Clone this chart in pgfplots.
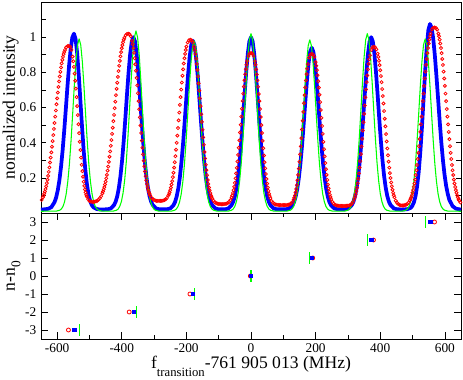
\documentclass[border=0pt]{standalone}
\usepackage{fontspec}
\setmainfont{Liberation Serif}
\usepackage{pgfplots}
\pgfplotsset{compat=1.18}
\definecolor{xgreen}{rgb}{0,1,0}
\pgfplotsset{
  mystyle/.style={
    scale only axis, width=315pt, xmin=-650, xmax=650,
    tick align=inside,
    axis line style={line width=0.6pt},
    every tick/.style={black, line width=0.5pt},
    /pgf/number format/assume math mode=true,
    tick label style={font=\fontsize{10}{12}\selectfont},
    every axis y label/.style={at={(axis description cs:-0.062,0.5)}, rotate=90, anchor=base, font=\fontsize{13.2}{15}\selectfont},
    every axis x label/.style={at={(axis description cs:0.5,-0.238)}, anchor=base, font=\fontsize{13.2}{15}\selectfont},
  },
  redmk/.style={only marks, mark=o, mark size=1.15pt, color=red, mark options={line width=0.6pt}}
}
\begin{document}
\begin{tikzpicture}
\begin{axis}[mystyle, at={(0,0)}, anchor=south west, height=158.25pt,
  ymin=0, ymax=1.2, ytick={0.2,0.4,0.6,0.8,1}, minor ytick={0.1,0.3,0.5,0.7,0.9,1.1},
  ytick pos=both, xtick=\empty,
  major tick length=3.5pt, minor tick length=3.5pt,
  ylabel={normalized intensity}]
\addplot[redmk] coordinates {
(-648,0.074) (-644,0.089) (-640,0.110) (-636,0.136) (-632,0.170) (-628,0.211) (-624,0.259) (-620,0.315)
(-616,0.377) (-612,0.443) (-608,0.512) (-604,0.583) (-600,0.652) (-596,0.717) (-592,0.776) (-588,0.828)
(-584,0.871) (-580,0.904) (-576,0.927) (-572,0.942) (-568,0.949) (-564,0.950) (-560,0.946) (-556,0.928)
(-552,0.889) (-548,0.831) (-544,0.752) (-540,0.659) (-536,0.557) (-532,0.454) (-528,0.358) (-524,0.274)
(-520,0.206) (-516,0.154) (-512,0.117) (-508,0.093) (-504,0.078) (-500,0.069) (-496,0.065) (-492,0.063)
(-488,0.063) (-484,0.064) (-480,0.066) (-476,0.070) (-472,0.075) (-468,0.084) (-464,0.095) (-460,0.112)
(-456,0.134) (-452,0.162) (-448,0.197) (-444,0.241) (-440,0.291) (-436,0.350) (-432,0.415) (-428,0.485)
(-424,0.558) (-420,0.633) (-416,0.706) (-412,0.774) (-408,0.837) (-404,0.891) (-400,0.937) (-396,0.971)
(-392,0.996) (-388,1.011) (-384,1.018) (-380,1.020) (-376,1.017) (-372,1.005) (-368,0.979) (-364,0.937)
(-360,0.880) (-356,0.809) (-352,0.726) (-348,0.636) (-344,0.544) (-340,0.455) (-336,0.371) (-332,0.297)
(-328,0.236) (-324,0.185) (-320,0.147) (-316,0.119) (-312,0.100) (-308,0.087) (-304,0.079) (-300,0.074)
(-296,0.071) (-292,0.069) (-288,0.069) (-284,0.069) (-280,0.069) (-276,0.069) (-272,0.071) (-268,0.074)
(-264,0.078) (-260,0.086) (-256,0.099) (-252,0.117) (-248,0.144) (-244,0.181) (-240,0.229) (-236,0.289)
(-232,0.360) (-228,0.440) (-224,0.527) (-220,0.615) (-216,0.702) (-212,0.781) (-208,0.850) (-204,0.905)
(-200,0.946) (-196,0.970) (-192,0.982) (-188,0.985) (-184,0.982) (-180,0.970) (-176,0.945) (-172,0.904)
(-168,0.848) (-164,0.777) (-160,0.696) (-156,0.608) (-152,0.518) (-148,0.430) (-144,0.347) (-140,0.275)
(-136,0.215) (-132,0.165) (-128,0.128) (-124,0.100) (-120,0.081) (-116,0.069) (-112,0.061) (-108,0.056)
(-104,0.053) (-100,0.051) (-96,0.051) (-92,0.050) (-88,0.050) (-84,0.051) (-80,0.052) (-76,0.053)
(-72,0.057) (-68,0.063) (-64,0.073) (-60,0.089) (-56,0.114) (-52,0.149) (-48,0.197) (-44,0.257)
(-40,0.330) (-36,0.413) (-32,0.502) (-28,0.593) (-24,0.679) (-20,0.755) (-16,0.818) (-12,0.864)
(-8,0.893) (-4,0.907) (0,0.910) (4,0.907) (8,0.893) (12,0.863) (16,0.817) (20,0.754)
(24,0.677) (28,0.591) (32,0.500) (36,0.410) (40,0.327) (44,0.254) (48,0.193) (52,0.145)
(56,0.109) (60,0.084) (64,0.068) (68,0.058) (72,0.052) (76,0.048) (80,0.047) (84,0.046)
(88,0.045) (92,0.045) (96,0.045) (100,0.045) (104,0.045) (108,0.045) (112,0.046) (116,0.047)
(120,0.049) (124,0.054) (128,0.062) (132,0.077) (136,0.100) (140,0.136) (144,0.186) (148,0.252)
(152,0.333) (156,0.426) (160,0.525) (164,0.624) (168,0.714) (172,0.790) (176,0.847) (180,0.884)
(184,0.901) (188,0.905) (192,0.902) (196,0.888) (200,0.858) (204,0.812) (208,0.749) (212,0.672)
(216,0.586) (220,0.495) (224,0.405) (228,0.322) (232,0.249) (236,0.188) (240,0.140) (244,0.104)
(248,0.079) (252,0.063) (256,0.053) (260,0.047) (264,0.043) (268,0.042) (272,0.041) (276,0.040)
(280,0.040) (284,0.040) (288,0.040) (292,0.040) (296,0.041) (300,0.042) (304,0.043) (308,0.047)
(312,0.053) (316,0.064) (320,0.081) (324,0.107) (328,0.144) (332,0.195) (336,0.258) (340,0.335)
(344,0.422) (348,0.516) (352,0.611) (356,0.702) (360,0.782) (364,0.848) (368,0.896) (372,0.927)
(376,0.942) (380,0.945) (384,0.942) (388,0.931) (392,0.906) (396,0.866) (400,0.812) (404,0.744)
(408,0.665) (412,0.580) (416,0.493) (420,0.407) (424,0.328) (428,0.258) (432,0.199) (436,0.152)
(440,0.115) (444,0.089) (448,0.070) (452,0.058) (456,0.050) (460,0.046) (464,0.043) (468,0.043)
(472,0.043) (476,0.044) (480,0.047) (484,0.052) (488,0.060) (492,0.072) (496,0.090) (500,0.115)
(504,0.148) (508,0.190) (512,0.243) (516,0.307) (520,0.380) (524,0.461) (528,0.548) (532,0.636)
(536,0.723) (540,0.804) (544,0.876) (548,0.938) (552,0.986) (556,1.020) (560,1.043) (564,1.053)
(568,1.055) (572,1.053) (576,1.043) (580,1.020) (584,0.986) (588,0.938) (592,0.876) (596,0.804)
(600,0.723) (604,0.636) (608,0.548) (612,0.461) (616,0.380) (620,0.307) (624,0.243) (628,0.190)
(632,0.148) (636,0.115) (640,0.090) (644,0.072) (648,0.060)
};
\addplot[redmk] coordinates {
(-642,0.099) (-638,0.122) (-634,0.152) (-630,0.189) (-626,0.234) (-622,0.287) (-618,0.345) (-614,0.409)
(-610,0.478) (-606,0.548) (-602,0.618) (-598,0.685) (-594,0.748) (-590,0.803) (-586,0.851) (-582,0.888)
(-578,0.916)
(-550,0.863) (-546,0.793) (-542,0.707) (-538,0.608) (-534,0.505) (-530,0.405) (-526,0.315) (-522,0.238)
(-518,0.178) (-514,0.134) (-510,0.104)
(-458,0.122) (-454,0.147) (-450,0.178) (-446,0.217) (-442,0.264) (-438,0.320) (-434,0.382) (-430,0.450)
(-426,0.522) (-422,0.596) (-418,0.670) (-414,0.741) (-410,0.807) (-406,0.865) (-402,0.915) (-398,0.955)
(-394,0.985)
(-366,0.960) (-362,0.911) (-358,0.846) (-354,0.768) (-350,0.681) (-346,0.590) (-342,0.498) (-338,0.412)
(-334,0.333) (-330,0.265) (-326,0.209) (-322,0.165) (-318,0.132) (-314,0.109)
(-254,0.107) (-250,0.130) (-246,0.162) (-242,0.204) (-238,0.258) (-234,0.323) (-230,0.399) (-226,0.483)
(-222,0.571) (-218,0.659) (-214,0.742) (-210,0.817) (-206,0.880) (-202,0.927)
(-174,0.926) (-170,0.878) (-166,0.814) (-162,0.737) (-158,0.652) (-154,0.562) (-150,0.473) (-146,0.388)
(-142,0.310) (-138,0.244) (-134,0.188) (-130,0.145) (-126,0.113) (-122,0.090)
(-58,0.100) (-54,0.130) (-50,0.171) (-46,0.225) (-42,0.293) (-38,0.371) (-34,0.458) (-30,0.548)
(-26,0.637) (-22,0.719) (-18,0.789) (-14,0.843)
(14,0.843) (18,0.788) (22,0.718) (26,0.636) (30,0.546) (34,0.455) (38,0.368) (42,0.289)
(46,0.222) (50,0.167) (54,0.126) (58,0.096)
(134,0.087) (138,0.117) (142,0.159) (146,0.217) (150,0.291) (154,0.379) (158,0.475) (162,0.575)
(166,0.670) (170,0.754) (174,0.821)
(202,0.838) (206,0.783) (210,0.713) (214,0.631) (218,0.541) (222,0.450) (226,0.363) (230,0.284)
(234,0.217) (238,0.162) (242,0.121) (246,0.091)
(322,0.093) (326,0.124) (330,0.168) (334,0.225) (338,0.295) (342,0.378) (346,0.469) (350,0.564)
(354,0.658) (358,0.744) (362,0.817) (366,0.874)
(394,0.888) (398,0.841) (402,0.779) (406,0.705) (410,0.623) (414,0.536) (418,0.449) (422,0.367)
(426,0.292) (430,0.227) (434,0.174) (438,0.132) (442,0.101)
(494,0.080) (498,0.101) (502,0.130) (506,0.168) (510,0.216) (514,0.273) (518,0.342) (522,0.420)
(526,0.504) (530,0.591) (534,0.679) (538,0.765) (542,0.842) (546,0.909) (550,0.964) (554,1.005)
(582,1.005) (586,0.964) (590,0.909) (594,0.842) (598,0.765) (602,0.679) (606,0.591) (610,0.504)
(614,0.420) (618,0.342) (622,0.273) (626,0.216) (630,0.168) (634,0.130) (638,0.101) (642,0.080)
};
\addplot[color=blue, line width=2.8pt, line join=round, no marks] coordinates {
(-650,0.020) (-638,0.021) (-628,0.024) (-618,0.033) (-608,0.062) (-603,0.089) (-598,0.130) (-593,0.187)
(-588,0.263) (-583,0.358) (-578,0.471) (-573,0.595) (-568,0.722) (-563,0.840) (-558,0.935) (-553,0.998)
(-548,1.020) (-543,0.990) (-538,0.907) (-533,0.783) (-528,0.638) (-523,0.491) (-518,0.358) (-513,0.249)
(-508,0.166) (-503,0.107) (-498,0.069) (-493,0.046) (-488,0.033) (-478,0.023) (-468,0.020)
(-444,0.021) (-434,0.026) (-424,0.045) (-419,0.064) (-414,0.095) (-409,0.143) (-404,0.210) (-399,0.299)
(-394,0.409) (-389,0.536) (-384,0.671) (-379,0.798) (-374,0.904) (-369,0.976) (-364,1.000) (-359,0.976)
(-354,0.904) (-349,0.798) (-344,0.671) (-339,0.536) (-334,0.409) (-329,0.299) (-324,0.210) (-319,0.143)
(-314,0.095) (-309,0.064) (-304,0.045) (-294,0.026) (-284,0.021)
(-260,0.021) (-250,0.026) (-240,0.044) (-235,0.063) (-230,0.094) (-225,0.140) (-220,0.206) (-215,0.294)
(-210,0.401) (-205,0.526) (-200,0.657) (-195,0.782) (-190,0.886) (-185,0.956) (-180,0.980) (-175,0.956)
(-170,0.886) (-165,0.782) (-160,0.657) (-155,0.526) (-150,0.401) (-145,0.294) (-140,0.206) (-135,0.140)
(-130,0.094) (-125,0.063) (-120,0.044) (-110,0.026) (-100,0.021)
(-80,0.021) (-70,0.026) (-60,0.045) (-55,0.064) (-50,0.095) (-45,0.143) (-40,0.210) (-35,0.299)
(-30,0.409) (-25,0.536) (-20,0.671) (-15,0.798) (-10,0.904) (-5,0.976) (0,1.000) (5,0.976)
(10,0.904) (15,0.798) (20,0.671) (25,0.536) (30,0.409) (35,0.299) (40,0.210) (45,0.143)
(50,0.095) (55,0.064) (60,0.045) (70,0.026) (80,0.021)
(108,0.021) (118,0.026) (128,0.043) (133,0.061) (138,0.091) (143,0.135) (148,0.198) (153,0.282)
(158,0.385) (163,0.505) (168,0.631) (173,0.750) (178,0.850) (183,0.917) (188,0.940) (193,0.917)
(198,0.850) (203,0.750) (208,0.631) (213,0.505) (218,0.385) (223,0.282) (228,0.198) (233,0.135)
(238,0.091) (243,0.061) (248,0.043) (258,0.026) (268,0.021)
(292,0.021) (302,0.026) (312,0.045) (317,0.064) (322,0.095) (327,0.143) (332,0.210) (337,0.299)
(342,0.409) (347,0.536) (352,0.671) (357,0.798) (362,0.904) (367,0.976) (372,1.000) (377,0.976)
(382,0.904) (387,0.798) (392,0.671) (397,0.536) (402,0.409) (407,0.299) (412,0.210) (417,0.143)
(422,0.095) (427,0.064) (432,0.045) (442,0.026) (452,0.021)
(474,0.020) (484,0.022) (494,0.029) (499,0.040) (504,0.060) (509,0.094) (514,0.150) (519,0.232)
(524,0.345) (529,0.485) (534,0.645) (539,0.806) (544,0.945) (549,1.041) (554,1.075) (559,1.054)
(564,0.992) (569,0.897) (574,0.779) (579,0.651) (584,0.522) (589,0.404) (594,0.302) (599,0.218)
(604,0.154) (609,0.108) (614,0.074) (624,0.039) (634,0.025) (644,0.021) (650,0.020)
};
\addplot[color=xgreen, line width=0.8pt, line join=round, no marks] coordinates {
(-650,0.010) (-602,0.011) (-592,0.016) (-587,0.023) (-582,0.037) (-577,0.064) (-572,0.109) (-567,0.180)
(-562,0.280) (-557,0.411) (-552,0.563) (-547,0.721) (-542,0.860) (-537,0.956) (-532,0.990) (-527,0.956)
(-522,0.860) (-517,0.721) (-512,0.563) (-507,0.411) (-502,0.280) (-497,0.180) (-492,0.109) (-487,0.064)
(-482,0.037) (-477,0.023) (-472,0.016) (-462,0.011)
(-426,0.011) (-416,0.016) (-411,0.023) (-406,0.039) (-401,0.066) (-396,0.114) (-391,0.187) (-386,0.292)
(-381,0.429) (-376,0.588) (-371,0.753) (-366,0.899) (-361,0.999) (-356,1.035) (-351,0.999) (-346,0.899)
(-341,0.753) (-336,0.588) (-331,0.429) (-326,0.292) (-321,0.187) (-316,0.114) (-311,0.066) (-306,0.039)
(-301,0.023) (-296,0.016) (-286,0.011)
(-246,0.011) (-236,0.016) (-231,0.023) (-226,0.037) (-221,0.063) (-216,0.108) (-211,0.178) (-206,0.277)
(-201,0.407) (-196,0.557) (-191,0.713) (-186,0.851) (-181,0.946) (-176,0.980) (-171,0.946) (-166,0.851)
(-161,0.713) (-156,0.557) (-151,0.407) (-146,0.277) (-141,0.178) (-136,0.108) (-131,0.063) (-126,0.037)
(-121,0.023) (-116,0.016) (-106,0.011)
(-70,0.011) (-60,0.016) (-55,0.023) (-50,0.038) (-45,0.066) (-40,0.112) (-35,0.185) (-30,0.288)
(-25,0.423) (-20,0.580) (-15,0.742) (-10,0.886) (-5,0.985) (0,1.020) (5,0.985) (10,0.886)
(15,0.742) (20,0.580) (25,0.423) (30,0.288) (35,0.185) (40,0.112) (45,0.066) (50,0.038)
(55,0.023) (60,0.016) (70,0.011)
(112,0.011) (122,0.016) (127,0.023) (132,0.037) (137,0.064) (142,0.108) (147,0.179) (152,0.278)
(157,0.409) (162,0.560) (167,0.717) (172,0.855) (177,0.951) (182,0.985) (187,0.951) (192,0.855)
(197,0.717) (202,0.560) (207,0.409) (212,0.278) (217,0.179) (222,0.108) (227,0.064) (232,0.037)
(237,0.023) (242,0.016) (252,0.011)
(290,0.011) (300,0.016) (305,0.023) (310,0.038) (315,0.066) (320,0.112) (325,0.185) (330,0.288)
(335,0.423) (340,0.580) (345,0.742) (350,0.886) (355,0.985) (360,1.020) (365,0.985) (370,0.886)
(375,0.742) (380,0.580) (385,0.423) (390,0.288) (395,0.185) (400,0.112) (405,0.066) (410,0.038)
(415,0.023) (420,0.016) (430,0.011)
(469,0.011) (479,0.016) (484,0.023) (489,0.037) (494,0.064) (499,0.109) (504,0.180) (509,0.280)
(514,0.411) (519,0.563) (524,0.721) (529,0.860) (534,0.956) (539,0.990) (544,0.956) (549,0.860)
(554,0.721) (559,0.563) (564,0.411) (569,0.280) (574,0.180) (579,0.109) (584,0.064) (589,0.037)
(594,0.023) (599,0.016) (609,0.011) (650,0.010)
};
\end{axis}
\begin{axis}[mystyle, at={(0,0)}, anchor=north west, height=94.5pt,
  ymin=-3.5, ymax=3.5, ytick={-3,-2,-1,0,1,2,3},
  xtick={-600,-400,-200,0,200,400,600}, minor xtick={-500,-300,-100,100,300,500},
  xtick pos=both, ytick pos=both,
  major tick length=5.5pt, minor tick length=3pt,
  xlabel={f\raisebox{-5.5pt}{\fontsize{9.5}{11}\selectfont transition}-761 905 013 (MHz)},
  ylabel={n-n\raisebox{-4pt}{\fontsize{10}{12}\selectfont 0}}]
\addplot[only marks, mark=|, mark size=4.4pt, color=xgreen, mark options={line width=0.9pt}] coordinates {
(-532,-3) (-354,-2) (-175,-1) (0,0) (182,1) (360,2) (539,3)};
\addplot[only marks, mark=o, mark size=1.5pt, color=red, mark options={line width=0.6pt}] coordinates {
(-565,-3) (-377,-2) (-189,-1) (-2,0) (191,1) (379,2) (568,3)};
\addplot[only marks, mark=square*, mark size=1.2pt, color=blue] coordinates {
(-547,-3) (-363,-2) (-180,-1) (0,0) (188,1) (372,2) (555,3)};
\end{axis}
\pgfresetboundingbox
\path[use as bounding box] (-30.75pt,-124.5pt) rectangle (316.5pt,159.75pt);
\end{tikzpicture}
\end{document}
